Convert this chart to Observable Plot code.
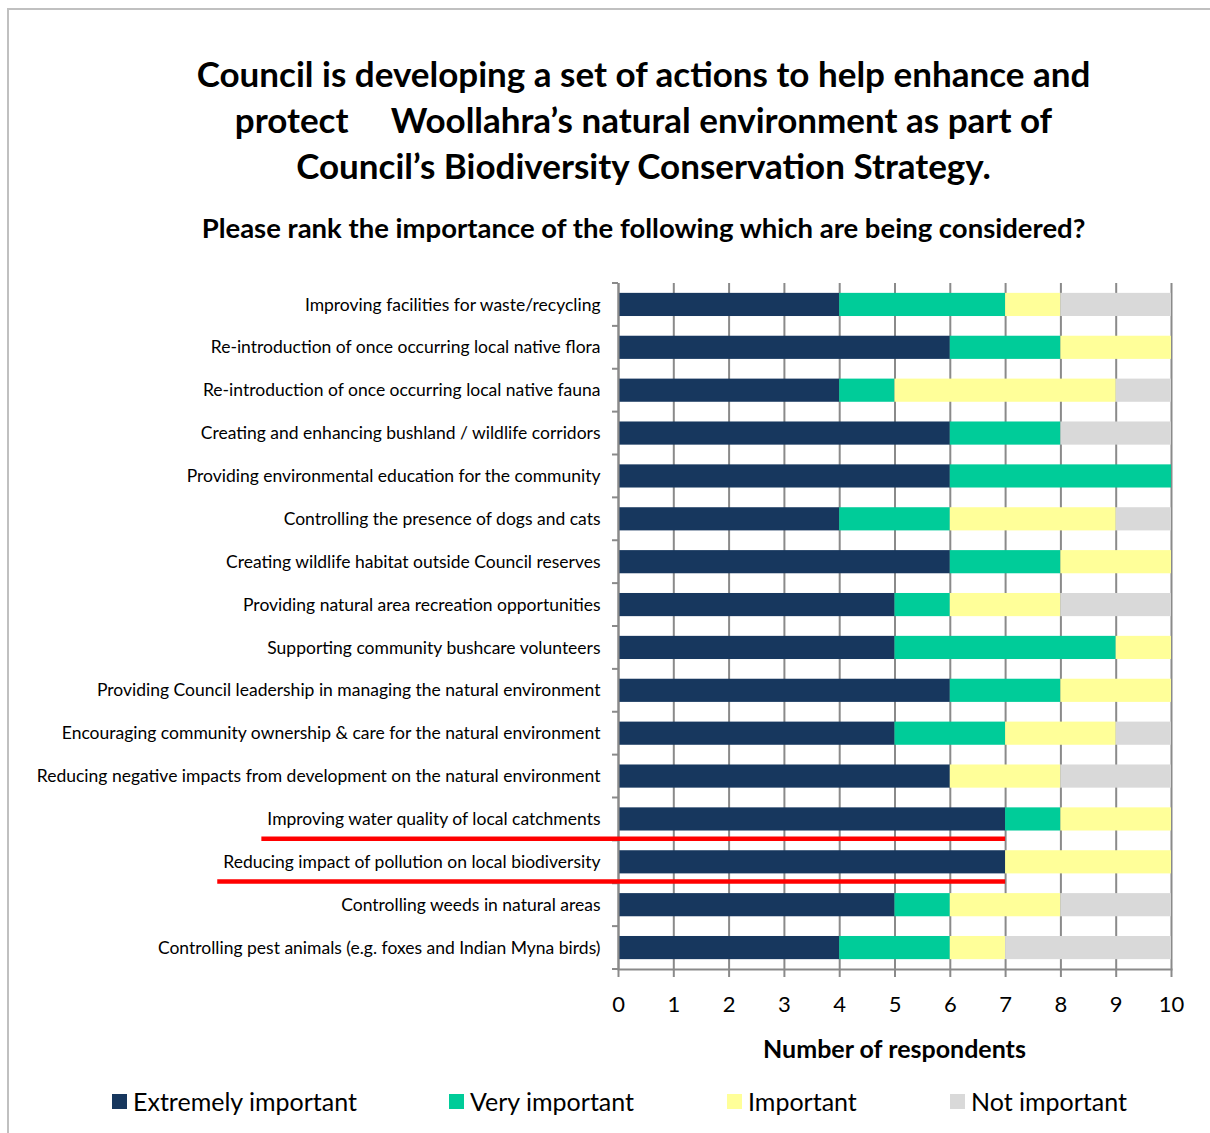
<!DOCTYPE html>
<html>
<head>
<meta charset="utf-8">
<script src="https://cdn.jsdelivr.net/npm/d3@7"></script>
<script src="https://cdn.jsdelivr.net/npm/@observablehq/plot@0.6"></script>
<style>
  html, body { margin: 0; padding: 0; background: #fff; }
  body { width: 1210px; height: 1133px; position: relative; overflow: hidden; font-family: Lato, "Open Sans", sans-serif; color: #000; }
  #frame { position: absolute; left: 7px; top: 8px; width: 1300px; height: 1300px; border: 2px solid #c0c0c0; }
  #title { position: absolute; left: 77px; width: 1133px; top: 50px; text-align: center; font-weight: 700; font-size: 35px; line-height: 46px; white-space: pre; }
  #subtitle { position: absolute; left: 77px; width: 1133px; top: 212px; text-align: center; font-weight: 700; font-size: 27.5px; line-height: 32px; }
  #chart { position: absolute; left: 0; top: 260px; }
  #xlabel { position: absolute; left: 618px; width: 553px; top: 1032px; text-align: center; font-weight: 700; font-size: 25px; line-height: 32px; }
  .leg { position: absolute; top: 1085px; height: 32px; line-height: 32px; font-size: 25px; white-space: nowrap; }
  .leg span.sw { position: absolute; left: 0; top: 9px; width: 15px; height: 15px; }
  .leg span.tx { position: absolute; left: 21px; top: 0; }
</style>
</head>
<body>
<div id="frame"></div>
<div id="title"></div>
<div id="subtitle"></div>
<div id="chart"></div>
<div id="xlabel"></div>
<div id="legend"></div>
<script>
const titleLines = [
  "Council is developing a set of actions to help enhance and",
  "protect     Woollahra\u2019s natural environment as part of",
  "Council\u2019s Biodiversity Conservation Strategy."
];
const subtitle = "Please rank the importance of the following which are being considered?";
const xLabel = "Number of respondents";

const categories = [
  "Improving facilities for waste/recycling",
  "Re-introduction of once occurring local native flora",
  "Re-introduction of once occurring local native fauna",
  "Creating and enhancing bushland / wildlife corridors",
  "Providing environmental education for the community",
  "Controlling the presence of dogs and cats",
  "Creating wildlife habitat outside Council reserves",
  "Providing natural area recreation opportunities",
  "Supporting community bushcare volunteers",
  "Providing Council leadership in managing the natural environment",
  "Encouraging community ownership & care for the natural environment",
  "Reducing negative impacts from development on the natural environment",
  "Improving water quality of local catchments",
  "Reducing impact of pollution on local biodiversity",
  "Controlling weeds in natural areas",
  "Controlling pest animals (e.g. foxes and Indian Myna birds)"
];
const series = ["Extremely important", "Very important", "Important", "Not important"];
const colors = ["#17375E", "#00CC99", "#FFFF99", "#D9D9D9"];

const extremely    = [4, 6, 4, 6, 6, 4, 6, 5, 5, 6, 5, 6, 7, 7, 5, 4];
const very         = [3, 2, 1, 2, 4, 2, 2, 1, 4, 2, 2, 0, 1, 0, 1, 2];
const important    = [1, 2, 4, 0, 0, 3, 2, 2, 1, 2, 2, 2, 2, 3, 2, 1];
const notImportant = [2, 0, 1, 2, 0, 1, 0, 2, 0, 0, 1, 2, 0, 0, 2, 3];

const xTicks = [0, 1, 2, 3, 4, 5, 6, 7, 8, 9, 10];
const highlighted = [
  "Improving water quality of local catchments",
  "Reducing impact of pollution on local biodiversity"
];

const seriesValues = [extremely, very, important, notImportant];
const data = categories.flatMap((c, i) =>
  series.map((s, j) => ({category: c, series: s, value: seriesValues[j][i]}))
);

document.getElementById("title").textContent = titleLines.join("\n");
document.getElementById("subtitle").textContent = subtitle;
document.getElementById("xlabel").textContent = xLabel;

const legendX = [112, 449, 727, 950];
const legend = document.getElementById("legend");
series.forEach((s, i) => {
  const d = document.createElement("div");
  d.className = "leg";
  d.style.left = legendX[i] + "px";
  d.innerHTML = `<span class="sw" style="background:${colors[i]}"></span><span class="tx"></span>`;
  d.querySelector(".tx").textContent = s;
  legend.appendChild(d);
});

const axisGray = "#8a8a8a";
const chart = Plot.plot({
  width: 1210,
  height: 769,
  marginTop: 23,
  marginLeft: 618,
  marginRight: 39,
  marginBottom: 60,
  style: {fontFamily: "Lato, 'Open Sans', sans-serif", fontSize: "17.5px", color: "#000", background: "transparent"},
  x: {domain: [0, 10], ticks: xTicks, label: null},
  y: {domain: categories, paddingInner: 0.46, paddingOuter: 0.23, round: false, label: null},
  color: {domain: series, range: colors},
  marks: [
    Plot.gridX(xTicks, {stroke: axisGray, strokeOpacity: 1, strokeWidth: 2}),
    Plot.barX(data, Plot.stackX({x: "value", y: "category", fill: "series", order: series})),
    Plot.ruleX([0], {stroke: axisGray, strokeWidth: 2}),
    Plot.frame({anchor: "bottom", stroke: axisGray, strokeWidth: 2}),
    Plot.axisX(xTicks, {tickSize: 8, tickPadding: 19, fontSize: 22, stroke: axisGray, strokeWidth: 2, label: null}),
    Plot.axisY({tickSize: 0, tickPadding: 18, fontSize: 17.5, label: null})
  ]
});
document.getElementById("chart").appendChild(chart);

// post: boundary ticks on y axis and red highlight underlines
const xs = chart.scale("x");
const ys = chart.scale("y");
const ns = "http://www.w3.org/2000/svg";
const x0 = xs.apply(0);
const step = ys.step, bw = ys.bandwidth;
const g = document.createElementNS(ns, "g");
chart.appendChild(g);
for (let i = 0; i <= categories.length; i++) {
  const yb = i < categories.length
    ? ys.apply(categories[i]) - (step - bw) / 2
    : ys.apply(categories[categories.length - 1]) + bw + (step - bw) / 2;
  const l = document.createElementNS(ns, "line");
  l.setAttribute("x1", x0 - 6); l.setAttribute("x2", x0);
  l.setAttribute("y1", yb); l.setAttribute("y2", yb);
  l.setAttribute("stroke", axisGray); l.setAttribute("stroke-width", 2);
  g.appendChild(l);
}
const svgRect = chart.getBoundingClientRect();
const texts = Array.from(chart.querySelectorAll("text"));
highlighted.forEach((cat, k) => {
  const i = categories.indexOf(cat);
  const t = texts.find(t => t.textContent === cat);
  const left = t ? t.getBoundingClientRect().left - svgRect.left - 6 : x0 - 350;
  const yc = ys.apply(cat) + bw / 2 + step * 0.46;
  const l = document.createElementNS(ns, "line");
  l.setAttribute("x1", left); l.setAttribute("x2", xs.apply(extremely[i]));
  l.setAttribute("y1", yc); l.setAttribute("y2", yc);
  l.setAttribute("stroke", "#FF0000"); l.setAttribute("stroke-width", 4.5);
  g.appendChild(l);
});
</script>
</body>
</html>
